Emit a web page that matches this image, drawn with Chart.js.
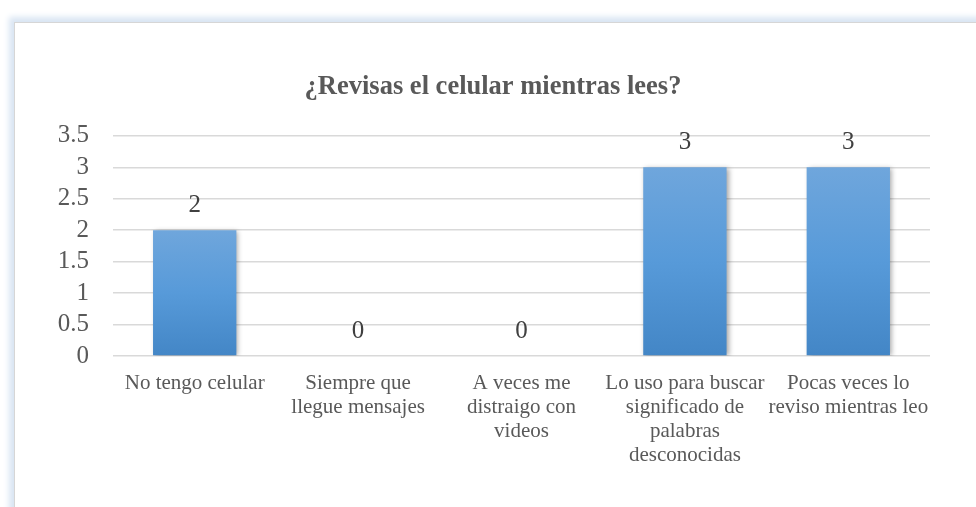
<!DOCTYPE html>
<html>
<head>
<meta charset="utf-8">
<script src="https://cdn.jsdelivr.net/npm/chart.js@4.4.1/dist/chart.umd.min.js"></script>
<style>
  html, body { margin: 0; padding: 0; background: #fff; overflow: hidden; }
  #frame {
    position: absolute; left: 14px; top: 22px; width: 1000px; height: 600px;
    border: 1px solid #d6d6d6;
    box-shadow: 0 0 6px 5px #d9e5f3;
    background: #fff;
  }
  #chart { position: absolute; left: 0; top: 0; }
</style>
</head>
<body>
<div id="frame"></div>
<canvas id="chart" width="976" height="507"></canvas>
<script>
// chart data
const categories = [
  'No tengo celular',
  ['Siempre que', 'llegue mensajes'],
  ['A veces me', 'distraigo con', 'videos'],
  ['Lo uso para buscar', 'significado de', 'palabras', 'desconocidas'],
  ['Pocas veces lo', 'reviso mientras leo']
];
const values = [2, 0, 0, 3, 3];
const yTicks = [0, 0.5, 1, 1.5, 2, 2.5, 3, 3.5];

const serif = "'Liberation Serif', 'Times New Roman', serif";

// gradient per bar, lighter at the top
function barFill(context) {
  const chart = context.chart;
  const y = chart.scales && chart.scales.y;
  if (!chart.chartArea || !y) return '#5b9bd5';
  const top = y.getPixelForValue(context.raw);
  const bottom = y.getPixelForValue(0);
  if (bottom - top < 1) return '#5b9bd5';
  const g = chart.ctx.createLinearGradient(0, top, 0, bottom);
  g.addColorStop(0, '#6fa6dc');
  g.addColorStop(0.5, '#579ad9');
  g.addColorStop(1, '#4386c6');
  return g;
}

// soft shadow behind the bars
const barShadow = {
  id: 'barShadow',
  beforeDatasetsDraw(chart) {
    const ctx = chart.ctx;
    ctx.save();
    ctx.shadowColor = 'rgba(0,0,0,0.35)';
    ctx.shadowBlur = 5;
    ctx.shadowOffsetX = 2;
    ctx.shadowOffsetY = 1;
  },
  afterDatasetsDraw(chart) {
    chart.ctx.restore();
  }
};

// value labels above each bar
const valueLabels = {
  id: 'valueLabels',
  afterDraw(chart) {
    const ctx = chart.ctx;
    const meta = chart.getDatasetMeta(0);
    ctx.save();
    ctx.font = '25px ' + serif;
    ctx.fillStyle = '#404040';
    ctx.textAlign = 'center';
    ctx.textBaseline = 'middle';
    meta.data.forEach((bar, i) => {
      ctx.fillText(String(values[i]), bar.x, bar.y - 25);
    });
    ctx.restore();
  }
};

new Chart(document.getElementById('chart'), {
  type: 'bar',
  data: {
    labels: categories,
    datasets: [{
      data: values,
      backgroundColor: barFill,
      borderWidth: 0,
      categoryPercentage: 1,
      barPercentage: 0.51
    }]
  },
  plugins: [barShadow, valueLabels],
  options: {
    responsive: false,
    animation: false,
    layout: { padding: { left: 56, right: 46, top: 0, bottom: 0 } },
    plugins: {
      legend: { display: false },
      tooltip: { enabled: false },
      title: {
        display: true,
        text: '¿Revisas el celular mientras lees?',
        color: '#595959',
        font: { family: serif, size: 26.5, weight: 'bold', lineHeight: 1.2 },
        padding: { top: 71, bottom: 33 }
      }
    },
    scales: {
      x: {
        grid: { display: false, drawTicks: false },
        border: { display: false },
        ticks: {
          color: '#595959',
          font: { family: serif, size: 21, lineHeight: 1.15 },
          maxRotation: 0,
          autoSkip: false,
          padding: 15
        },
        afterFit(scale) { scale.height = 151; }
      },
      y: {
        min: yTicks[0],
        max: yTicks[yTicks.length - 1],
        grid: { color: '#d9d9d9', lineWidth: 1.5, drawTicks: false },
        border: { display: false },
        afterBuildTicks(scale) { scale.ticks = yTicks.map(v => ({ value: v })); },
        ticks: {
          autoSkip: false,
          color: '#595959',
          font: { family: serif, size: 25 },
          padding: 24,
          callback: v => String(v)
        },
        afterFit(scale) { scale.width = 57; }
      }
    }
  }
});
</script>
</body>
</html>
